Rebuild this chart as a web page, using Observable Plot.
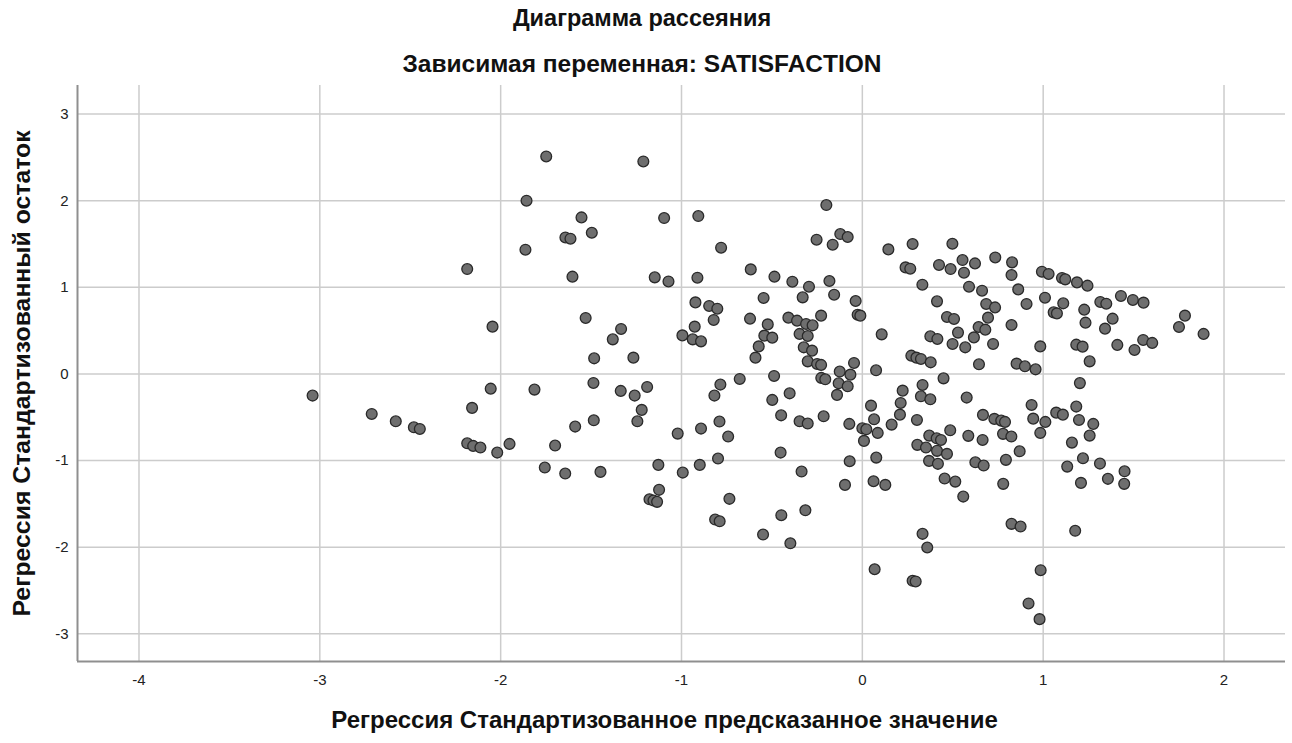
<!DOCTYPE html>
<html>
<head>
<meta charset="utf-8">
<script src="https://cdn.jsdelivr.net/npm/d3@7"></script>
<script src="https://cdn.jsdelivr.net/npm/@observablehq/plot@0.6"></script>
<style>
  html, body { margin: 0; padding: 0; background: #fff; }
  #wrap { position: relative; width: 1292px; height: 743px; font-family: "Liberation Sans", Arial, sans-serif; }
  .ttl { position: absolute; left: 0; width: 1284px; text-align: center; font-weight: bold; line-height: 28px; color: #111; }
  #chart { position: absolute; left: 0; top: 80px; }
</style>
</head>
<body>
<div id="wrap">
  <div class="ttl" style="top:4px;font-size:23.5px">Диаграмма рассеяния</div>
  <div class="ttl" style="top:50px;font-size:24.5px">Зависимая переменная: SATISFACTION</div>
  <div id="chart"></div>
</div>
<script>
const titleText = "Диаграмма рассеяния";
const xLabel = "Регрессия Стандартизованное предсказанное значение";
const yLabel = "Регрессия Стандартизованный остаток";
const xTicks = [-4, -3, -2, -1, 0, 1, 2];
const yTicks = [-3, -2, -1, 0, 1, 2, 3];

// Standardized predicted values
const predicted = [
-3.040,-2.713,-2.580,-2.480,-2.447,-2.185,-2.185,-2.158,-2.152,-2.112,
-2.055,-2.045,-2.019,-1.951,-1.857,-1.863,-1.813,-1.748,-1.211,-1.553,
-1.096,-0.907,-1.642,-1.614,-1.496,-0.781,-0.617,-1.603,-1.148,-1.072,
-0.912,-0.546,-0.923,-0.847,-0.802,-0.822,-1.530,-1.334,-1.380,-0.927,
-0.995,-0.938,-0.892,-0.621,-0.573,-0.591,-1.483,-1.266,-1.487,-1.336,
-1.259,-1.190,-0.785,-0.818,-0.678,-1.220,-1.244,-1.485,-1.588,-1.699,
-1.021,-0.892,-0.790,-0.742,-0.798,-0.899,-0.993,-1.128,-1.756,-1.643,
-1.448,-1.124,-1.177,-1.155,-1.135,-0.735,-0.814,-0.789,-0.549,-0.199,
-0.253,-0.164,-0.122,-0.081,-0.486,-0.387,-0.295,-0.182,-0.330,-0.156,
-0.037,-0.026,-0.011,-0.228,-0.409,-0.361,-0.311,-0.275,-0.523,-0.542,
-0.498,-0.347,-0.302,-0.324,-0.278,-0.302,-0.250,-0.228,-0.046,-0.125,
-0.066,-0.488,-0.227,-0.205,-0.131,-0.081,-0.402,-0.498,-0.140,0.076,
0.144,0.278,0.498,0.239,0.265,0.424,0.488,0.554,0.623,0.562,
0.332,0.590,0.662,0.413,0.468,0.507,0.643,0.107,0.376,0.415,
0.529,0.499,0.569,0.617,0.271,0.299,0.324,0.378,0.645,0.449,
0.333,0.223,0.577,0.324,0.376,-0.449,-0.347,-0.302,-0.214,-0.072,
0.048,0.065,0.000,0.022,0.009,0.085,0.162,0.212,0.208,0.302,
0.370,0.411,0.435,0.486,0.586,0.667,0.665,0.304,0.352,0.413,
0.468,0.369,0.418,0.625,0.671,0.455,0.514,0.558,-0.452,-0.336,
-0.070,0.077,-0.096,0.062,0.127,-0.448,-0.315,-0.398,0.333,0.359,
0.068,0.278,0.295,0.735,0.828,0.825,0.993,1.030,1.104,1.122,
1.187,1.245,0.862,1.010,0.685,0.734,0.908,1.111,1.058,1.076,
1.227,1.316,1.349,1.430,1.496,1.555,0.695,0.680,0.825,1.234,
1.384,1.342,1.784,1.751,1.887,0.723,0.984,1.183,1.218,1.410,
1.553,1.603,1.505,1.257,0.853,0.899,0.958,1.203,0.936,1.183,
0.730,0.768,0.789,0.945,1.012,1.072,1.109,1.198,1.277,0.778,
0.824,0.984,1.257,0.870,1.159,0.794,1.220,1.133,1.314,1.450,
1.358,1.448,1.209,0.779,0.825,0.875,1.177,0.986,0.919,0.980
];

// Standardized residuals
const residual = [
-0.250,-0.462,-0.547,-0.616,-0.635,1.211,-0.801,-0.392,-0.831,-0.850,
-0.170,0.546,-0.908,-0.808,2.000,1.434,-0.181,2.511,2.453,1.807,
1.800,1.823,1.576,1.561,1.630,1.457,1.207,1.123,1.115,1.068,
1.111,0.877,0.826,0.785,0.753,0.623,0.646,0.519,0.399,0.546,
0.445,0.399,0.376,0.638,0.318,0.188,0.180,0.188,-0.104,-0.196,
-0.250,-0.150,-0.123,-0.250,-0.058,-0.415,-0.547,-0.535,-0.608,-0.827,
-0.689,-0.631,-0.550,-0.723,-0.977,-1.050,-1.139,-1.050,-1.081,-1.150,
-1.131,-1.338,-1.447,-1.462,-1.477,-1.442,-1.681,-1.701,-1.854,1.950,
1.550,1.492,1.615,1.581,1.123,1.065,1.007,1.073,0.884,0.915,
0.842,0.684,0.673,0.673,0.650,0.615,0.577,0.561,0.572,0.442,
0.419,0.462,0.438,0.307,0.269,0.145,0.115,0.104,0.127,0.027,
-0.008,-0.023,-0.046,-0.062,-0.108,-0.143,-0.224,-0.300,-0.242,0.042,
1.438,1.500,1.503,1.230,1.215,1.258,1.211,1.315,1.276,1.169,
1.030,1.007,0.961,0.838,0.658,0.635,0.542,0.457,0.434,0.404,
0.477,0.346,0.307,0.422,0.211,0.188,0.173,0.134,0.111,-0.051,
-0.127,-0.193,-0.273,-0.258,-0.293,-0.478,-0.547,-0.573,-0.489,-0.577,
-0.366,-0.524,-0.628,-0.639,-0.773,-0.681,-0.585,-0.335,-0.470,-0.531,
-0.712,-0.743,-0.762,-0.651,-0.715,-0.473,-0.762,-0.819,-0.850,-0.888,
-0.923,-1.004,-1.038,-1.020,-1.058,-1.208,-1.243,-1.416,-0.908,-1.127,
-1.008,-0.966,-1.281,-1.239,-1.281,-1.631,-1.574,-1.955,-1.846,-2.004,
-2.255,-2.388,-2.396,1.345,1.288,1.142,1.180,1.154,1.108,1.092,
1.057,1.019,0.976,0.880,0.808,0.768,0.808,0.815,0.711,0.699,
0.742,0.831,0.811,0.900,0.854,0.823,0.650,0.511,0.565,0.592,
0.638,0.523,0.673,0.542,0.462,0.346,0.318,0.338,0.315,0.335,
0.392,0.358,0.277,0.145,0.119,0.088,0.053,-0.106,-0.358,-0.377,
-0.519,-0.539,-0.554,-0.516,-0.554,-0.447,-0.470,-0.531,-0.577,-0.692,
-0.723,-0.681,-0.712,-0.893,-0.793,-0.992,-0.974,-1.070,-1.035,-1.124,
-1.211,-1.269,-1.258,-1.269,-1.731,-1.762,-1.811,-2.266,-2.650,-2.831
];

const xDomain = [-4.34, 2.34];
const yDomain = [-3.32, 3.33];
const points = predicted.map((x, i) => ({x, y: residual[i]}));

const chart = Plot.plot({
  width: 1292,
  height: 663,
  marginTop: 5,
  marginBottom: 82,
  marginLeft: 77,
  marginRight: 7,
  style: {fontFamily: "'Liberation Sans', Arial, sans-serif", fontSize: "15px", color: "#222", background: "#fff"},
  x: {domain: xDomain, ticks: xTicks},
  y: {domain: yDomain, ticks: yTicks},
  marks: [
    Plot.gridX(xTicks, {stroke: "#cccccc", strokeOpacity: 1, strokeWidth: 1.5}),
    Plot.gridY(yTicks, {stroke: "#cccccc", strokeOpacity: 1, strokeWidth: 1.5}),
    Plot.ruleX([xDomain[0]], {stroke: "#8f8f8f", strokeWidth: 2}),
    Plot.ruleY([yDomain[0]], {stroke: "#8f8f8f", strokeWidth: 2}),
    Plot.axisX(xTicks, {tickSize: 0, tickPadding: 13, tickFormat: d => String(d), label: null, fontSize: 15}),
    Plot.axisY(yTicks, {tickSize: 0, tickPadding: 9, tickFormat: d => String(d), label: null, fontSize: 15}),
    Plot.dot(points, {x: "x", y: "y", r: 5.4, fill: "#6e6e6e", stroke: "#2a2a2a", strokeWidth: 1.3}),
    Plot.text([xLabel], {frameAnchor: "bottom", dy: 66, dx: -17, fontSize: 24, fontWeight: "bold", fill: "#111"}),
    Plot.text([yLabel], {frameAnchor: "left", textAnchor: "middle", dx: -55, rotate: -90, fontSize: 24.8, fontWeight: "bold", fill: "#111"})
  ]
});
document.getElementById("chart").appendChild(chart);
</script>
</body>
</html>
